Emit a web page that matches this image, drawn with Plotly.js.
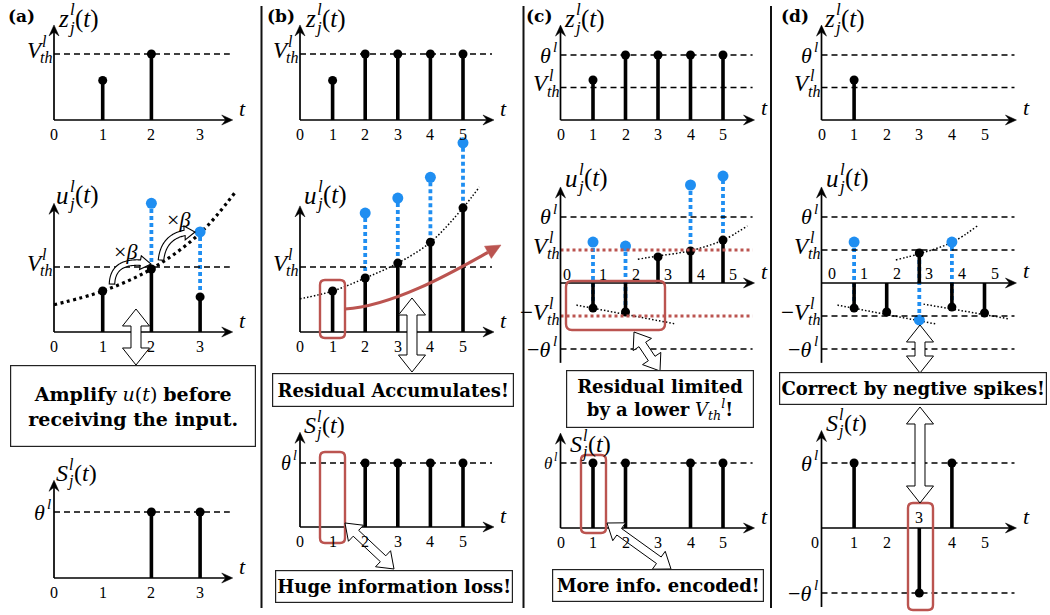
<!DOCTYPE html>
<html><head><meta charset="utf-8">
<script src="https://cdn.plot.ly/plotly-3.0.1.min.js"></script>
<style>html,body{margin:0;padding:0;background:#fff}#chart{width:1050px;height:615px}</style>
</head><body><div id="chart"></div>
<script>
// ================= DATA =================
const ticksA = [0, 1, 2, 3];
const ticksB = [0, 1, 2, 3, 4, 5];
// levels
const VTH_ab = 1, THETA_ab = 1;      // panels (a),(b)
const VTH_cd = 1, THETA_cd = 2;      // panels (c),(d)
// (a)
const aZ_t = [1, 2],        aZ_v = [0.6, 1.0];
const aU_t = [1, 2, 3],     aU_v = [0.63, 0.97, 0.54];
const aUpre_t = [2, 3],     aUpre_v = [1.98, 1.54];
const aTrend_t = [0, 1, 2, 3, 3.72], aTrend_v = [0.42, 0.63, 0.97, 1.52, 2.15];
const aS_t = [2, 3],        aS_v = [1, 1];
// (b)
const bZ_t = [1, 2, 3, 4, 5], bZ_v = [0.6, 1, 1, 1, 1];
const bU_t = [1, 2, 3, 4, 5], bU_v = [0.63, 0.83, 1.06, 1.38, 1.91];
const bUpre_t = [2, 3, 4, 5], bUpre_v = [1.83, 2.06, 2.38, 2.91];
const bTrend_t = [0, 1, 2, 3, 4, 5, 5.5], bTrend_v = [0.51, 0.63, 0.83, 1.06, 1.38, 1.91, 2.23];
const bS_t = [2, 3, 4, 5],  bS_v = [1, 1, 1, 1];
// (c)
const cZ_t = [1, 2, 3, 4, 5], cZ_v = [1.23, 2, 2, 2, 2];
const cU_t = [1, 2, 3, 4, 5], cU_v = [-0.76, -0.88, 0.79, 0.97, 1.30];
const cUpre_t = [1, 2, 4, 5], cUpre_v = [1.24, 1.12, 2.97, 3.24];
const cTrendN_t = [0.49, 3.54], cTrendN_v = [-0.67, -1.24];
const cTrendP_t = [2.38, 3.0, 4.0, 5.0, 5.75], cTrendP_v = [0.72, 0.82, 0.98, 1.30, 1.73];
const cS_t = [1, 2, 4, 5],  cS_v = [2, 2, 2, 2];
// (d)
const dZ_t = [1],           dZ_v = [1.23];
const dU_t = [1, 2, 3, 4, 5], dU_v = [-0.76, -0.88, 0.91, -0.73, -0.91];
const dUpre_t = [1, 3, 4],  dUpre_v = [1.24, -1.12, 1.24];
const dTrend1_t = [0.49, 3.5],  dTrend1_v = [-0.67, -1.24];
const dTrend2_t = [2.28, 3.05, 4.04, 4.78], dTrend2_v = [0.70, 0.90, 1.25, 1.73];
const dTrend3_t = [3.13, 5.77], dTrend3_v = [-0.64, -1.09];
const dS_t = [1, 3, 4],     dS_v = [2, -2, 2];

// ================= LAYOUT HELPERS =================
const W = 1050, H = 615;
const FM = 'Liberation Serif, Times New Roman, serif';
const FB = 'DejaVu Serif, serif';
const BLUE = '#1f8ef1', RED = '#bb5450';

const G = {
  a1:{ox:54,  ux:48.7, oy:120, uy:66,   xtip:3.67, ytip:1.44, ybot:0,     ytop:1.8},
  a2:{ox:54,  ux:48.7, oy:332, uy:65,   xtip:3.67, ytip:1.98, ybot:0,     ytop:2.5},
  a3:{ox:54,  ux:48.7, oy:578, uy:66,   xtip:3.67, ytip:1.48, ybot:0,     ytop:1.8},
  b1:{ox:300, ux:32.6, oy:120, uy:66,   xtip:5.95, ytip:1.44, ybot:0,     ytop:1.8},
  b2:{ox:300, ux:32.6, oy:332, uy:65,   xtip:5.95, ytip:1.94, ybot:0,     ytop:3.3},
  b3:{ox:300, ux:32.6, oy:527, uy:64,   xtip:5.95, ytip:1.48, ybot:0,     ytop:1.8},
  c1:{ox:560.5,ux:32.5,oy:120, uy:32.5, xtip:5.97, ytip:2.92, ybot:0,     ytop:3.2},
  c2:{ox:560.5,ux:32.5,oy:283, uy:33,   xtip:5.97, ytip:2.91, ybot:-2.42, ytop:3.6},
  c3:{ox:560.5,ux:32.5,oy:528, uy:32.5, xtip:5.97, ytip:2.92, ybot:0,     ytop:3.2},
  d1:{ox:821.5,ux:32.6,oy:120, uy:32.5, xtip:5.98, ytip:2.92, ybot:0,     ytop:3.2},
  d2:{ox:821.5,ux:32.6,oy:283, uy:33,   xtip:5.98, ytip:2.91, ybot:-2.42, ytop:3.2},
  d3:{ox:821.5,ux:32.6,oy:528, uy:32.5, xtip:5.98, ytip:3.0,  ybot:-2.43, ytop:3.3}
};
const order = ['a1','a2','a3','b1','b2','b3','c1','c2','c3','d1','d2','d3'];
const traces = [], shapes = [], ann = [];
const layout = {width:W, height:H, margin:{l:0,r:0,t:0,b:0}, paper_bgcolor:'#fff',
  plot_bgcolor:'rgba(0,0,0,0)', showlegend:false, shapes:shapes, annotations:ann};

const px = (g,t) => g.ox + t*g.ux;
const py = (g,v) => g.oy - v*g.uy;
const P = (x,y) => (x/W).toFixed(5) + ',' + (1-y/H).toFixed(5);

order.forEach((k,i) => {
  const g = G[k], n = i+1;
  g.xa = n===1 ? 'x' : 'x'+n; g.ya = n===1 ? 'y' : 'y'+n;
  const xl = Math.max(g.ox - 0.6*g.ux, 1), xr = Math.min(px(g, g.xtip+0.3), W-1);
  const yb = Math.min(py(g, g.ybot-0.35), H-1), yt = Math.max(py(g, g.ytop), 1);
  layout['xaxis'+(n===1?'':n)] = {domain:[xl/W, xr/W], range:[(xl-g.ox)/g.ux, (xr-g.ox)/g.ux],
    visible:false, fixedrange:true, anchor:g.ya};
  layout['yaxis'+(n===1?'':n)] = {domain:[1-yb/H, 1-yt/H], range:[(g.oy-yb)/g.uy, (g.oy-yt)/g.uy],
    visible:false, fixedrange:true, anchor:g.xa};
});

function stems(k, T, V){
  const g = G[k], xs = [], ys = [];
  T.forEach((t,i) => { xs.push(t,t,null); ys.push(0,V[i],null); });
  traces.push({type:'scatter', mode:'lines', x:xs, y:ys, xaxis:g.xa, yaxis:g.ya,
    line:{color:'#000', width:3.6}, hoverinfo:'skip'});
  traces.push({type:'scatter', mode:'markers', x:T, y:V, xaxis:g.xa, yaxis:g.ya, cliponaxis:false,
    marker:{color:'#000', size:9}, hoverinfo:'skip'});
}
function preStems(k, Tp, Vp, T, V){
  const g = G[k], xs = [], ys = [];
  Tp.forEach((t,i) => { const from = V[T.indexOf(t)]; xs.push(t,t,null); ys.push(from,Vp[i],null); });
  traces.push({type:'scatter', mode:'lines', x:xs, y:ys, xaxis:g.xa, yaxis:g.ya,
    line:{color:BLUE, width:3.8, dash:'4px,3px'}, hoverinfo:'skip'});
  traces.push({type:'scatter', mode:'markers', x:Tp, y:Vp, xaxis:g.xa, yaxis:g.ya, cliponaxis:false,
    marker:{color:BLUE, size:11}, hoverinfo:'skip'});
}
function trend(k, T, V, thick){
  const g = G[k];
  traces.push({type:'scatter', mode:'lines', x:T, y:V, xaxis:g.xa, yaxis:g.ya,
    line:{color:'#000', width: thick ? 3.2 : 1.5, dash: thick ? '3px,3.5px' : '1.5px,2px', shape:'spline'},
    hoverinfo:'skip'});
}
function axes(k){
  const g = G[k];
  const X0 = g.ox, Y0 = g.oy, XT = px(g,g.xtip), YT = py(g,g.ytip), YB = py(g,g.ybot);
  shapes.push({type:'line', xref:'paper', yref:'paper', x0:X0/W, x1:(XT-6)/W, y0:1-Y0/H, y1:1-Y0/H, line:{color:'#000', width:1.7}});
  shapes.push({type:'line', xref:'paper', yref:'paper', x0:X0/W, x1:X0/W, y0:1-YB/H, y1:1-(YT+6)/H, line:{color:'#000', width:1.7}});
  shapes.push({type:'path', xref:'paper', yref:'paper', fillcolor:'#000', line:{color:'#000', width:0.5},
    path:`M${P(XT,Y0)}L${P(XT-11,Y0-5)}L${P(XT-7,Y0)}L${P(XT-11,Y0+5)}Z`});
  shapes.push({type:'path', xref:'paper', yref:'paper', fillcolor:'#000', line:{color:'#000', width:0.5},
    path:`M${P(X0,YT)}L${P(X0-5,YT+11)}L${P(X0,YT+7)}L${P(X0+5,YT+11)}Z`});
  ann.push({xref:g.xa, yref:g.ya, x:g.xtip, y:0, xshift:10, yshift:12, xanchor:'center', yanchor:'middle', showarrow:false,
    text:'<i>t</i>', font:{family:FM, size:22, color:'#000'}});
}
function level(k, v, style){
  const g = G[k];
  const ln = style === 'red' ? {color:RED, width:3, dash:'3px,3px'} : {color:'#000', width:1.3, dash:'6px,4px'};
  shapes.push({type:'line', xref:g.xa, yref:g.ya, x0:0, x1:g.xtip - 0.06, y0:v, y1:v, line:ln});
}
function ticks(k, T, o){
  o = o || {};
  const g = G[k];
  T.forEach(t => ann.push({xref:g.xa, yref:g.ya, x:t, y:0, xshift:(t===0 && o.dx0!==undefined) ? o.dx0 : (o.dx||0),
    yshift:(o.dy!==undefined ? o.dy : -14), xanchor:'center', yanchor:'middle', showarrow:false, text:String(t),
    font:{family:FM, size:16, color:'#000'}}));
}
const cw = {z:.42,u:.5,S:.52,V:.62,'θ':.48,'−':.6,t:.3,'(':.33,')':.33,l:.3,j:.3,h:.5};
function estW(s, size){ s = s.replace(/<[^>]+>/g,''); let w = 0; for (const ch of s) w += (cw[ch]||.5)*size; return w; }
function math(x, y, base, sup, sub, tail, size, anchor, supGap){
  const ss = Math.round(size*0.68);
  const gap = supGap || 1;
  const bw = estW(base,size), sw = Math.max(estW(sup,ss)+gap-1, estW(sub,ss)), tw = tail ? estW(tail,size) : 0;
  const left = anchor === 'right' ? x - bw - sw - tw - 2 : x;
  const f = s => ({family:FM, size:s, color:'#000'});
  const A = (xx,yy,t,s) => ann.push({xref:'paper', yref:'paper', x:xx/W, y:1-yy/H, xanchor:'left', yanchor:'middle',
    showarrow:false, text:t, font:f(s), borderpad:0});
  A(left, y, base, size);
  if (sup) A(left+bw+gap, y - size*0.36, sup, ss);
  if (sub) A(left+bw-1, y + size*0.33, sub, ss);
  if (tail) A(left+bw+sw+1, y, tail, size);
}
const I = s => '<i>' + s + '</i>';
function vthLabel(k, v, neg){ const g = G[k]; math(g.ox+1, py(g,v)-4, (neg?'−':'')+I('V'), I('l'), I('th'), '', 23, 'right'); }
function thLabel(k, v, neg, size){ const g = G[k]; math(g.ox-3, py(g,v), (neg?'−':'')+I('θ'), I('l'), '', '', size||22, 'right', 2); }
function fnLabel(x, y, base, size){ math(x, y, I(base), I('l'), I('j'), '('+I('t')+')', size||25, 'left'); }

function dbl(x1,y1,x2,y2,sw,hw,hl){
  const dx = x2-x1, dy = y2-y1, L = Math.hypot(dx,dy), ux = dx/L, uy = dy/L, nx = -uy, ny = ux;
  const pt = (bx,by,a,b) => [bx+ux*a+nx*b, by+uy*a+ny*b];
  const pts = [[x1,y1], pt(x1,y1,hl,hw/2), pt(x1,y1,hl,sw/2), pt(x2,y2,-hl,sw/2), pt(x2,y2,-hl,hw/2), [x2,y2],
    pt(x2,y2,-hl,-hw/2), pt(x2,y2,-hl,-sw/2), pt(x1,y1,hl,-sw/2), pt(x1,y1,hl,-hw/2)];
  shapes.push({type:'path', xref:'paper', yref:'paper', path:'M'+pts.map(p=>P(p[0],p[1])).join('L')+'Z',
    fillcolor:'#fff', line:{color:'#000', width:1}});
}
function curveArrow(p0,c,p1,sw,hw,hl){
  const B = t => [(1-t)*(1-t)*p0[0]+2*(1-t)*t*c[0]+t*t*p1[0], (1-t)*(1-t)*p0[1]+2*(1-t)*t*c[1]+t*t*p1[1]];
  const N = 60, pts = [];
  for (let i=0;i<=N;i++) pts.push(B(i/N));
  let k = N; while (k>0 && Math.hypot(p1[0]-pts[k][0], p1[1]-pts[k][1]) < hl) k--;
  const body = pts.slice(0,k+1), left = [], right = [];
  body.forEach((p,i) => {
    const q = body[Math.min(i+1,body.length-1)], r = body[Math.max(i-1,0)];
    const dx = q[0]-r[0], dy = q[1]-r[1], L = Math.hypot(dx,dy)||1, nx = -dy/L, ny = dx/L;
    left.push([p[0]+nx*sw/2, p[1]+ny*sw/2]); right.push([p[0]-nx*sw/2, p[1]-ny*sw/2]);
  });
  const hb = body[body.length-1], dx = p1[0]-hb[0], dy = p1[1]-hb[1], L = Math.hypot(dx,dy), nx = -dy/L, ny = dx/L;
  const poly = [...left, [hb[0]+nx*hw/2, hb[1]+ny*hw/2], p1, [hb[0]-nx*hw/2, hb[1]-ny*hw/2], ...right.reverse()];
  shapes.push({type:'path', xref:'paper', yref:'paper', path:'M'+poly.map(p=>P(p[0],p[1])).join('L')+'Z',
    fillcolor:'#fff', line:{color:'#000', width:1.1}});
}
function rrect(x0,y0,x1,y1,r){
  const d = `M${P(x0+r,y0)}L${P(x1-r,y0)}Q${P(x1,y0)} ${P(x1,y0+r)}L${P(x1,y1-r)}Q${P(x1,y1)} ${P(x1-r,y1)}` +
            `L${P(x0+r,y1)}Q${P(x0,y1)} ${P(x0,y1-r)}L${P(x0,y0+r)}Q${P(x0,y0)} ${P(x0+r,y0)}Z`;
  shapes.push({type:'path', xref:'paper', yref:'paper', path:d, line:{color:RED, width:2.4}, fillcolor:'rgba(0,0,0,0)'});
}
function box(cx,cy,w,h,text,size){
  ann.push({xref:'paper', yref:'paper', x:cx/W, y:1-cy/H, xanchor:'center', yanchor:'middle', showarrow:false,
    text:text, width:w-2, height:h-2, borderpad:0, bordercolor:'#222', borderwidth:1.2, bgcolor:'#fff',
    font:{family:FB, size:size||18, color:'#000'}});
}
function plain(x,y,text,size,fam){
  ann.push({xref:'paper', yref:'paper', x:x/W, y:1-y/H, xanchor:'center', yanchor:'middle', showarrow:false,
    text:text, font:{family:fam||FM, size:size, color:'#000'}});
}

// ================= PANEL (a) =================
trend('a2', aTrend_t, aTrend_v, true);
preStems('a2', aUpre_t, aUpre_v, aU_t, aU_v);
stems('a1', aZ_t, aZ_v); stems('a2', aU_t, aU_v); stems('a3', aS_t, aS_v);
['a1','a2','a3'].forEach(k => { axes(k); ticks(k, ticksA); });
level('a1', VTH_ab); level('a2', VTH_ab); level('a3', THETA_ab);
vthLabel('a1', VTH_ab); vthLabel('a2', VTH_ab); thLabel('a3', THETA_ab);
fnLabel(57, 19, 'z'); fnLabel(55, 195, 'u'); fnLabel(55, 473, 'S', 24);
curveArrow([112,284],[113,257],[151,264], 5.5, 14, 10);
curveArrow([161,260],[164,232],[195,232], 5.5, 14, 10);
plain(125, 252, '×<i>β</i>', 22); plain(178, 219, '×<i>β</i>', 22);
dbl(136,309,136,365, 10, 27, 17);
box(133, 406, 246, 82, '<b>Amplify</b> <i>u</i>(<i>t</i>) <b>before</b><br><b>receiving the input.</b>', 19);
plain(21, 16, '<b>(a)</b>', 17, FB);

// ================= PANEL (b) =================
trend('b2', bTrend_t, bTrend_v, false);
preStems('b2', bUpre_t, bUpre_v, bU_t, bU_v);
stems('b1', bZ_t, bZ_v); stems('b2', bU_t, bU_v); stems('b3', bS_t, bS_v);
['b1','b2','b3'].forEach(k => { axes(k); ticks(k, ticksB); });
level('b1', VTH_ab); level('b2', VTH_ab); level('b3', THETA_ab);
vthLabel('b1', VTH_ab); vthLabel('b2', VTH_ab); thLabel('b3', THETA_ab, false, 20);
fnLabel(304, 19, 'z'); fnLabel(303, 195, 'u'); fnLabel(303, 425, 'S', 24);
rrect(320, 280, 345, 338, 5); rrect(320, 452, 345, 543, 5);
{
  const T = [501,245], C2 = [458,269];
  const dx = T[0]-C2[0], dy = T[1]-C2[1], L = Math.hypot(dx,dy), ux = dx/L, uy = dy/L;
  const Bx = T[0]-ux*15, By = T[1]-uy*15;
  shapes.push({type:'path', xref:'paper', yref:'paper', path:`M${P(345,309)}C${P(395,306)} ${P(C2[0],C2[1])} ${P(Bx,By)}`,
    line:{color:RED, width:3.2}, fillcolor:'rgba(0,0,0,0)'});
  shapes.push({type:'path', xref:'paper', yref:'paper', fillcolor:RED, line:{color:RED, width:0.5},
    path:`M${P(T[0],T[1])}L${P(Bx-uy*7,By+ux*7)}L${P(Bx+uy*7,By-ux*7)}Z`});
}
dbl(412,298,412,372, 10, 27, 17);
dbl(345,523,394,569, 8, 22, 15);
box(393, 390, 242, 34, '<b>Residual Accumulates!</b>');
box(394, 586.5, 238, 33, '<b>Huge information loss!</b>');
plain(281, 16, '<b>(b)</b>', 17, FB);

// ================= PANEL (c) =================
trend('c2', cTrendN_t, cTrendN_v, false); trend('c2', cTrendP_t, cTrendP_v, false);
level('c2', VTH_cd, 'red'); level('c2', -VTH_cd, 'red');
preStems('c2', cUpre_t, cUpre_v, cU_t, cU_v);
stems('c1', cZ_t, cZ_v); stems('c2', cU_t, cU_v); stems('c3', cS_t, cS_v);
axes('c1'); ticks('c1', ticksB);
axes('c2'); ticks('c2', ticksB, {dx:10, dx0:6, dy:9});
axes('c3'); ticks('c3', ticksB);
level('c1', THETA_cd); level('c1', VTH_cd);
level('c2', THETA_cd); level('c2', -THETA_cd);
level('c3', THETA_cd);
thLabel('c1', THETA_cd); vthLabel('c1', VTH_cd);
thLabel('c2', THETA_cd); vthLabel('c2', VTH_cd); vthLabel('c2', -VTH_cd, true); thLabel('c2', -THETA_cd, true);
thLabel('c3', THETA_cd, false, 17);
fnLabel(563, 19, 'z'); fnLabel(564, 178, 'u'); fnLabel(569, 444, 'S', 24);
rrect(566, 281, 665, 330, 6); rrect(581, 455, 606, 533, 5);
dbl(634,332,660,371, 8, 22, 15);
dbl(607,523,671,569, 8, 22, 15);
box(660, 399, 188, 58, '<b>Residual limited</b><br><b>by a lower</b> <i>V</i><sub><i>th</i></sub><sup><i>l</i></sup><b>!</b>');
box(658, 585.5, 212, 33, '<b>More info. encoded!</b>');
plain(539, 16, '<b>(c)</b>', 17, FB);

// ================= PANEL (d) =================
trend('d2', dTrend1_t, dTrend1_v, false); trend('d2', dTrend2_t, dTrend2_v, false); trend('d2', dTrend3_t, dTrend3_v, false);
preStems('d2', dUpre_t, dUpre_v, dU_t, dU_v);
stems('d1', dZ_t, dZ_v); stems('d2', dU_t, dU_v); stems('d3', dS_t, dS_v);
axes('d1'); ticks('d1', ticksB);
axes('d2'); ticks('d2', ticksB, {dx:10, dy:9});
axes('d3'); ticks('d3', ticksB.filter(t => t !== 3), {dx0:-7}); ticks('d3', [3], {dy:11});
level('d1', THETA_cd); level('d1', VTH_cd);
level('d2', THETA_cd); level('d2', VTH_cd); level('d2', -VTH_cd); level('d2', -THETA_cd);
level('d3', THETA_cd); level('d3', -THETA_cd);
thLabel('d1', THETA_cd); vthLabel('d1', VTH_cd);
thLabel('d2', THETA_cd); vthLabel('d2', VTH_cd); vthLabel('d2', -VTH_cd, true); thLabel('d2', -THETA_cd, true);
thLabel('d3', THETA_cd); thLabel('d3', -THETA_cd, true);
fnLabel(823, 19, 'z'); fnLabel(825, 178, 'u'); fnLabel(825, 423, 'S', 24);
rrect(908, 503, 933, 610, 5);
dbl(920,325,920,373, 10, 27, 17);
dbl(920,407,920,503, 10, 27, 17);
box(913, 388.5, 268, 33, '<b>Correct by negtive spikes!</b>');
plain(795, 16, '<b>(d)</b>', 17, FB);

// column separators
[261.5, 523.5, 771].forEach(x => shapes.push({type:'line', xref:'paper', yref:'paper', x0:x/W, x1:x/W,
  y0:1-6/H, y1:1-608/H, line:{color:'#111', width:2}}));

Plotly.newPlot('chart', traces, layout, {staticPlot:true, displayModeBar:false});
</script>
</body></html>
